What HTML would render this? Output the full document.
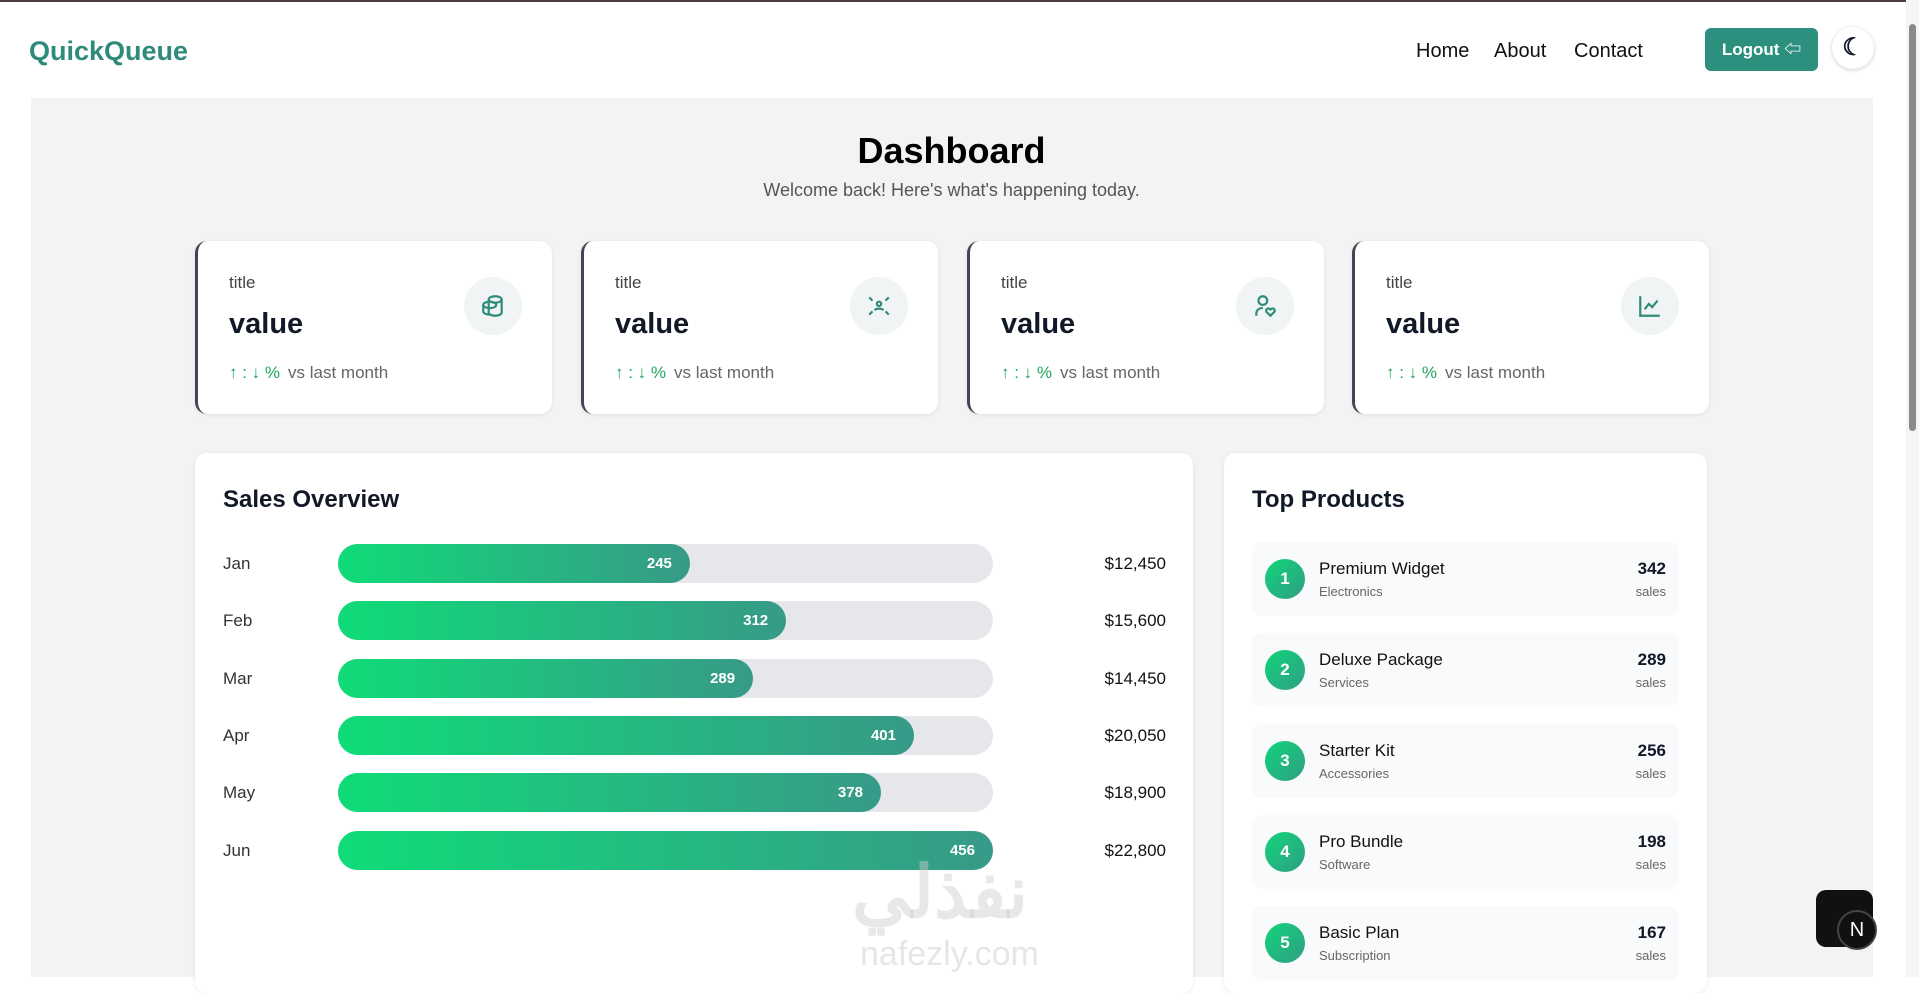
<!DOCTYPE html>
<html><head><meta charset="utf-8">
<style>
*{box-sizing:border-box;margin:0;padding:0}
body{width:1919px;height:977px;overflow:hidden;background:#fff;font-family:"Liberation Sans","Noto Sans CJK SC",sans-serif;position:relative;color:#111827}
.abs{position:absolute}
.card{position:absolute;background:#fff;border-radius:12px;box-shadow:0 1px 4px rgba(0,0,0,.08)}
.stat{top:241px;width:357px;height:173px;border-left:3px solid #3f4654}
.stat .t{position:absolute;left:31px;top:32px;font-size:17px;color:#444}
.stat .v{position:absolute;left:31px;font-size:29px;font-weight:bold}
.stat .ic{position:absolute;right:30px;top:36px;width:58px;height:58px;border-radius:50%;background:#f1f4f4;display:flex;align-items:center;justify-content:center}
.stat .ch{position:absolute;left:31px;top:122px;font-size:17px;color:#666}
.stat .ch b{color:#1ea55c;font-weight:normal;margin-right:8px}
.row-label{position:absolute;left:28px;font-size:17px;color:#333}
.track{position:absolute;left:143px;width:655px;height:39px;border-radius:20px;background:#e5e7eb}
.fill{position:absolute;left:0;top:0;height:39px;border-radius:20px;background:linear-gradient(90deg,#0fdc78,#379a88);color:#fff;font-weight:bold;font-size:15px;text-align:right;padding-right:18px;line-height:39px}
.amt{position:absolute;right:27px;font-size:17px;color:#111}
.prod{position:absolute;left:28px;width:427px;height:74px;border-radius:10px;background:#f8fafc}
.prod .n{position:absolute;left:13px;top:17px;width:40px;height:40px;border-radius:50%;background:linear-gradient(135deg,#12d47a,#2f9e84);color:#fff;font-weight:bold;font-size:17px;text-align:center;line-height:40px}
.prod .nm{position:absolute;left:67px;top:17px;font-size:17px;color:#111}
.prod .cat{position:absolute;left:67px;top:42px;font-size:13px;color:#666}
.prod .q{position:absolute;right:13px;top:17px;font-size:17px;font-weight:bold}
.prod .s{position:absolute;right:13px;top:42px;font-size:13px;color:#666}
</style></head><body>
<div class="abs" style="left:0;top:0;width:1919px;height:2px;background:#4a3a3a"></div>
<div class="abs" style="left:29px;top:36px;font-size:27px;font-weight:bold;color:#2e8b7a">QuickQueue</div>
<div class="abs" style="left:1416px;top:40px;font-size:20px;color:#111">Home</div>
<div class="abs" style="left:1494px;top:40px;font-size:20px;color:#111">About</div>
<div class="abs" style="left:1574px;top:40px;font-size:20px;color:#111">Contact</div>
<div class="abs" style="left:1705px;top:28px;width:113px;height:43px;border-radius:6px;background:#2d8f7e;color:#fff;font-size:17px;font-weight:bold;line-height:43px;text-align:center">Logout ⇦</div>
<div class="abs" style="left:1832px;top:27px;width:42px;height:42px;border-radius:50%;background:#fff;box-shadow:0 1px 4px rgba(0,0,0,.2);text-align:center;line-height:42px;font-size:24px;font-weight:bold">☾</div>
<div class="abs" style="left:1906px;top:0;width:13px;height:977px;background:#f5f5f5"><div style="position:absolute;left:3px;top:24px;width:7px;height:407px;border-radius:4px;background:#8a8a8a"></div></div>

<div class="abs" style="left:31px;top:98px;width:1842px;height:879px;background:#f3f3f3"></div>
<div class="abs" style="left:0;width:1903px;top:130px;text-align:center;font-size:36px;font-weight:bold;color:#000">Dashboard</div>
<div class="abs" style="left:0;width:1903px;top:180px;text-align:center;font-size:18px;color:#555">Welcome back! Here's what's happening today.</div>

<div class="card stat" style="left:195px"><div class="t">title</div><div class="v" style="top:67px">value</div><div class="ic"><svg width="26" height="26" viewBox="0 0 24 24" fill="none" stroke="#2e8b7a" stroke-width="2"><ellipse cx="14" cy="6" rx="6" ry="3"/><path d="M8 6v12c0 1.6 2.7 3 6 3s6-1.4 6-3V6"/><ellipse cx="9" cy="11" rx="6" ry="3"/><path d="M3 11v6c0 1.6 2.7 3 6 3"/></svg></div><div class="ch"><b>↑ : ↓ %</b>vs last month</div></div>
<div class="card stat" style="left:581px"><div class="t">title</div><div class="v" style="top:67px">value</div><div class="ic"><svg width="26" height="26" viewBox="0 0 24 24" fill="none" stroke="#2e8b7a" stroke-width="2"><circle cx="12" cy="10" r="2"/><path d="M8 16c1-2 7-2 8 0M3 4l3 3M21 4l-3 3M3 20l3-3M21 20l-3-3"/></svg></div><div class="ch"><b>↑ : ↓ %</b>vs last month</div></div>
<div class="card stat" style="left:967px"><div class="t">title</div><div class="v" style="top:67px">value</div><div class="ic"><svg width="26" height="26" viewBox="0 0 24 24" fill="none" stroke="#2e8b7a" stroke-width="2"><circle cx="10" cy="7" r="4"/><path d="M4 21v-2a5 5 0 0 1 6-5M17 21l-3-3a2 2 0 1 1 3-2 2 2 0 1 1 3 2z"/></svg></div><div class="ch"><b>↑ : ↓ %</b>vs last month</div></div>
<div class="card stat" style="left:1352px"><div class="t">title</div><div class="v" style="top:67px">value</div><div class="ic"><svg width="26" height="26" viewBox="0 0 24 24" fill="none" stroke="#2e8b7a" stroke-width="2"><path d="M3 3v18h18M7 15l4-5 3 3 5-6"/></svg></div><div class="ch"><b>↑ : ↓ %</b>vs last month</div></div>

<div class="card" id="sales" style="left:195px;top:453px;width:998px;height:540px">
<div class="abs" style="left:28px;top:33px;font-size:24px;font-weight:bold">Sales Overview</div>
</div>

<div class="card" style="left:1224px;top:453px;width:483px;height:540px">
<div class="abs" style="left:28px;top:33px;font-size:24px;font-weight:bold">Top Products</div>
<div class="prod" style="top:89px"><div class="n">1</div><div class="nm">Premium Widget</div><div class="cat">Electronics</div><div class="q">342</div><div class="s">sales</div></div>
<div class="prod" style="top:180px"><div class="n">2</div><div class="nm">Deluxe Package</div><div class="cat">Services</div><div class="q">289</div><div class="s">sales</div></div>
<div class="prod" style="top:271px"><div class="n">3</div><div class="nm">Starter Kit</div><div class="cat">Accessories</div><div class="q">256</div><div class="s">sales</div></div>
<div class="prod" style="top:362px"><div class="n">4</div><div class="nm">Pro Bundle</div><div class="cat">Software</div><div class="q">198</div><div class="s">sales</div></div>
<div class="prod" style="top:453px"><div class="n">5</div><div class="nm">Basic Plan</div><div class="cat">Subscription</div><div class="q">167</div><div class="s">sales</div></div>
</div>

<div class="abs" style="left:852px;top:850px;font-size:72px;font-weight:bold;color:rgba(205,205,205,.45)">نفذلي</div>
<div class="abs" style="left:860px;top:935px;font-size:34px;color:rgba(205,205,205,.5)">nafezly.com</div>

<div class="abs" style="left:1816px;top:890px;width:57px;height:57px;border-radius:10px;background:#111"></div>
<div class="abs" style="left:1837px;top:910px;width:40px;height:40px;border-radius:50%;background:#111;border:2px solid #444;color:#fff;text-align:center;line-height:36px;font-size:20px">N</div>

<script>
const months=["Jan","Feb","Mar","Apr","May","Jun"];
const units=[245,312,289,401,378,456];
const revenue=["$12,450","$15,600","$14,450","$20,050","$18,900","$22,800"];
const card=document.getElementById('sales');
const maxU=Math.max(...units);
const trackW=655;
function xScale(v){return v/maxU*trackW;}
function rowY(i){return 91+i*57.3;}
months.forEach((m,i)=>{
  const y=rowY(i);
  const l=document.createElement('div');l.className='row-label';l.style.top=(y+10)+'px';l.textContent=m;
  
  
  card.appendChild(l);
  const t=document.createElement('div');t.className='track';t.style.top=y+'px';
  
  
  const f=document.createElement('div');f.className='fill';f.style.width=xScale(units[i])+'px';f.textContent=units[i];
  
  
  t.appendChild(f);card.appendChild(t);
  const a=document.createElement('div');a.className='amt';a.style.top=(y+10)+'px';a.textContent=revenue[i];
  
  
  card.appendChild(a);
});
</script>
</body></html>
